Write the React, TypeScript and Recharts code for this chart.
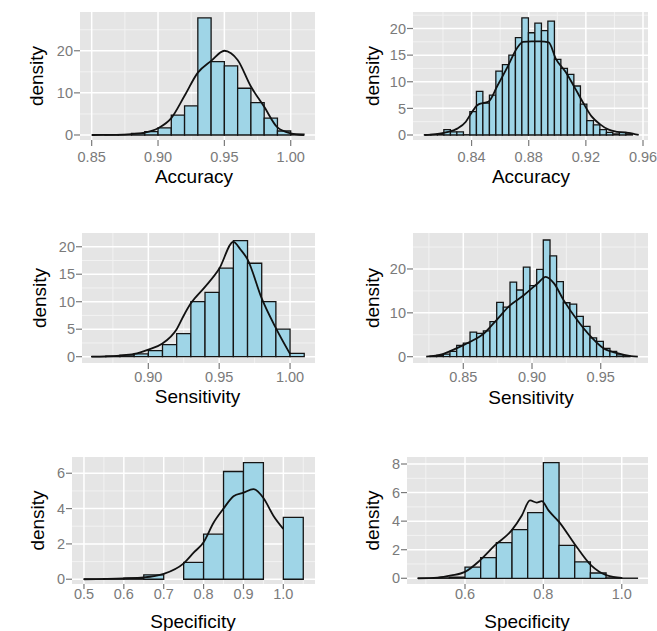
import { CartesianGrid, ComposedChart, Line, ReferenceArea, XAxis, YAxis } from "recharts";

// bin edges (n+1) and densities (n) of each histogram, plus the kernel density curve

const accA_edges = [0.86, 0.87, 0.88, 0.89, 0.90, 0.91, 0.92, 0.93, 0.94, 0.95, 0.96, 0.97, 0.98, 0.99, 1.00, 1.01];
const accA_hist = [0.05, 0.1, 0.4, 0.8, 1.7, 4.7, 6.9, 27.8, 17.4, 16.4, 11.1, 7.7, 4.0, 0.95, 0.2];
const accA_densX = [0.85, 0.87, 0.88, 0.89, 0.90, 0.91, 0.92, 0.93, 0.94, 0.95, 0.955, 0.96, 0.97, 0.98, 0.99, 1.00, 1.01];
const accA_densY = [0, 0.05, 0.2, 0.55, 1.6, 4.0, 9.3, 14.8, 17.6, 20.0, 19.4, 17.8, 11.5, 6.7, 1.8, 0.4, 0];

const accB_edges = [0.807, 0.8115, 0.8161, 0.8206, 0.8252, 0.8297, 0.8343, 0.8388, 0.8434, 0.8479, 0.8525, 0.857, 0.8616,
    0.8661, 0.8707, 0.8752, 0.8798, 0.8843, 0.8889, 0.8934, 0.898, 0.9025, 0.9071, 0.9116, 0.9162, 0.9207, 0.9253, 0.9298,
    0.9344, 0.9389, 0.9435, 0.948, 0.9526];
const accB_hist = [0.05, 0.1, 0.15, 1.0, 0.6, 0.6, 0.05, 4.4, 8.2, 6.0, 7.5, 12.0, 13.2, 15.0, 18.3, 22.0, 19.2, 21.0, 19.6,
    21.4, 14.2, 12.5, 11.4, 9.2, 5.8, 2.7, 1.9, 1.0, 0.5, 0.2, 0.5, 0.2];
const accB_densX = [0.807, 0.815, 0.822, 0.83, 0.836, 0.84, 0.844, 0.848, 0.852, 0.858, 0.865, 0.872, 0.876, 0.882, 0.888,
    0.894, 0.899, 0.906, 0.912, 0.918, 0.924, 0.93, 0.936, 0.942, 0.95, 0.957];
const accB_densY = [0, 0.15, 0.5, 1.2, 2.5, 4.2, 5.6, 6.0, 6.3, 9.2, 12.7, 16.4, 17.5, 17.6, 17.6, 17.4, 14.3, 11.8, 9.0, 6.1,
    3.5, 2.0, 1.0, 0.6, 0.4, 0];

const senA_edges = [0.86, 0.87, 0.88, 0.89, 0.90, 0.91, 0.92, 0.93, 0.94, 0.95, 0.96, 0.97, 0.98, 0.99, 1.00, 1.01];
const senA_hist = [0.02, 0.1, 0.3, 0.5, 1.1, 2.2, 4.2, 10.0, 11.7, 16.1, 21.1, 17.0, 10.0, 5.0, 0.6];
const senA_densX = [0.86, 0.87, 0.88, 0.89, 0.90, 0.91, 0.92, 0.925, 0.93, 0.94, 0.95, 0.96, 0.965, 0.97, 0.98, 0.99, 1.00];
const senA_densY = [0, 0.05, 0.2, 0.5, 1.3, 2.4, 5.0, 7.5, 9.7, 12.7, 16.0, 20.9, 19.5, 17.7, 10.6, 5.2, 0.5];

const senB_edges = [0.8258, 0.8306, 0.8355, 0.8403, 0.8452, 0.85, 0.8549, 0.8597, 0.8646, 0.8694, 0.8743, 0.8791, 0.884,
    0.8888, 0.8937, 0.8985, 0.9034, 0.9082, 0.9131, 0.9179, 0.9228, 0.9276, 0.9325, 0.9373, 0.9422, 0.947, 0.9519, 0.9567,
    0.9616, 0.9664, 0.9713];
const senB_hist = [0.1, 0.3, 0.6, 1.2, 2.6, 3.1, 5.6, 5.3, 5.9, 8.0, 12.4, 11.3, 17.0, 15.2, 20.4, 16.2, 19.9, 26.6, 23.0,
    17.1, 12.3, 12.0, 9.2, 6.9, 4.3, 3.5, 1.9, 1.2, 0.4, 0.15];
const senB_densX = [0.823, 0.835, 0.845, 0.855, 0.865, 0.874, 0.884, 0.894, 0.904, 0.91, 0.916, 0.923, 0.933, 0.943, 0.952,
    0.962, 0.972, 0.977];
const senB_densY = [0, 0.6, 1.9, 3.4, 5.3, 8.3, 11.7, 14.0, 16.7, 18.2, 16.7, 12.9, 8.3, 4.5, 1.9, 0.8, 0.15, 0];

const speA_edges = [0.50, 0.55, 0.60, 0.65, 0.70, 0.75, 0.80, 0.85, 0.90, 0.95, 1.00, 1.05];
const speA_hist = [0.01, 0.03, 0.06, 0.25, 0, 0.95, 2.55, 6.1, 6.6, 0, 3.5];
const speA_densX = [0.5, 0.6, 0.65, 0.7, 0.75, 0.775, 0.8, 0.825, 0.85, 0.875, 0.9, 0.925, 0.95, 0.975, 1.0];
const speA_densY = [0, 0.05, 0.1, 0.3, 0.9, 1.5, 2.1, 3.2, 4.0, 4.7, 4.9, 5.1, 4.6, 3.6, 2.85];

const speB_edges = [0.48, 0.52, 0.56, 0.60, 0.64, 0.68, 0.72, 0.76, 0.80, 0.84, 0.88, 0.92, 0.96, 1.00, 1.04];
const speB_hist = [0.01, 0.03, 0.08, 0.78, 1.45, 2.5, 3.4, 4.6, 8.1, 2.3, 1.15, 0.37, 0.03, 0.01];
const speB_densX = [0.48, 0.53, 0.565, 0.6, 0.638, 0.678, 0.719, 0.745, 0.766, 0.783, 0.796, 0.813, 0.84, 0.881, 0.922,
    0.962, 1.0];
const speB_densY = [0, 0.05, 0.2, 0.45, 1.25, 2.35, 3.35, 4.4, 5.45, 5.3, 5.4, 4.75, 3.95, 2.35, 0.9, 0.2, 0.02];

const FONT = '"Liberation Sans", Arial, Helvetica, sans-serif';
const BAR_FILL = "#9fd5e7";
const TICK_GREY = "#7a7a7a";

interface PanelSpec {
    title: string
    edges: number[]
    hist: number[]
    densX: number[]
    densY: number[]
    plot: [number, number, number, number] // left, top, right, bottom of the grey panel on the page
    xDomain: [number, number]
    yDomain: [number, number]
    xTicks: number[]
    xMinor: number[]
    yTicks: number[]
    yMinor: number[]
    digits: number
    yTitleX: number
    xTitleCx: number
    xTickSize: number
    xTickMargin: number
    xTitleOffset: number
}

const panels: PanelSpec[] = [
    {
        title: "Accuracy", edges: accA_edges, hist: accA_hist, densX: accA_densX, densY: accA_densY,
        plot: [80, 12, 315, 140], xDomain: [0.8412, 1.0183], yDomain: [-1.19, 29.2],
        xTicks: [0.85, 0.9, 0.95, 1.0], xMinor: [0.875, 0.925, 0.975], yTicks: [0, 10, 20], yMinor: [5, 15, 25],
        digits: 2, yTitleX: 42.5, xTitleCx: 194, xTickSize: 6, xTickMargin: 6, xTitleOffset: 43,
    },
    {
        title: "Accuracy", edges: accB_edges, hist: accB_hist, densX: accB_densX, densY: accB_densY,
        plot: [413, 12, 648, 140], xDomain: [0.799, 0.9635], yDomain: [-0.94, 23.1],
        xTicks: [0.84, 0.88, 0.92, 0.96], xMinor: [0.82, 0.86, 0.9, 0.94], yTicks: [0, 5, 10, 15, 20],
        yMinor: [2.5, 7.5, 12.5, 17.5, 22.5],
        digits: 2, yTitleX: 379, xTitleCx: 531, xTickSize: 6, xTickMargin: 6, xTitleOffset: 43,
    },
    {
        title: "Sensitivity", edges: senA_edges, hist: senA_hist, densX: senA_densX, densY: senA_densY,
        plot: [82, 233, 315, 363], xDomain: [0.8532, 1.0176], yDomain: [-1.15, 22.5],
        xTicks: [0.9, 0.95, 1.0], xMinor: [0.875, 0.925, 0.975], yTicks: [0, 5, 10, 15, 20], yMinor: [2.5, 7.5, 12.5, 17.5],
        digits: 2, yTitleX: 46, xTitleCx: 197.5, xTickSize: 6, xTickMargin: 3, xTitleOffset: 40,
    },
    {
        title: "Sensitivity", edges: senB_edges, hist: senB_hist, densX: senB_densX, densY: senB_densY,
        plot: [413, 233, 648, 363], xDomain: [0.8134, 0.9844], yDomain: [-1.44, 28.2],
        xTicks: [0.85, 0.9, 0.95], xMinor: [0.825, 0.875, 0.925, 0.975], yTicks: [0, 10, 20], yMinor: [5, 15, 25],
        digits: 2, yTitleX: 379, xTitleCx: 531, xTickSize: 6, xTickMargin: 3, xTitleOffset: 41,
    },
    {
        title: "Specificity", edges: speA_edges, hist: speA_hist, densX: speA_densX, densY: speA_densY,
        plot: [72, 457, 315, 584], xDomain: [0.47, 1.0794], yDomain: [-0.27, 6.92],
        xTicks: [0.5, 0.6, 0.7, 0.8, 0.9, 1.0], xMinor: [0.55, 0.65, 0.75, 0.85, 0.95, 1.05], yTicks: [0, 2, 4, 6],
        yMinor: [1, 3, 5],
        digits: 1, yTitleX: 44, xTitleCx: 193, xTickSize: 5, xTickMargin: 0, xTitleOffset: 43.5,
    },
    {
        title: "Specificity", edges: speB_edges, hist: speB_hist, densX: speB_densX, densY: speB_densY,
        plot: [407, 457, 648, 584], xDomain: [0.452, 1.067], yDomain: [-0.4, 8.49],
        xTicks: [0.6, 0.8, 1.0], xMinor: [0.5, 0.7, 0.9], yTicks: [0, 2, 4, 6, 8], yMinor: [1, 3, 5, 7],
        digits: 1, yTitleX: 379, xTitleCx: 527, xTickSize: 5, xTickMargin: 0, xTitleOffset: 44,
    },
];

function Panel({s}: { s: PanelSpec }) {
    const [pl, pt, pr, pb] = s.plot;
    const yw = 70, mt = 4, mr = 12, xh = 60;
    const left = pl - yw, top = pt - mt;
    const width = yw + (pr - pl) + mr, height = mt + (pb - pt) + xh;
    const data = s.densX.map((x, i) => ({x, y: s.densY[i]}));
    const bins = s.hist.map((h, i) => ({x0: s.edges[i], x1: s.edges[i + 1], h}));

    return (
        <div style={{position: "absolute", left, top, width, height}}>
            <ComposedChart width={width} height={height} data={data} margin={{top: mt, right: mr, left: 0, bottom: 0}}>
                <CartesianGrid fill="#E5E5E5" fillOpacity={1} stroke="#F2F2F2" strokeWidth={1}
                               verticalValues={s.xMinor} horizontalValues={s.yMinor}/>
                <CartesianGrid stroke="#FFFFFF" strokeWidth={1.5}
                               verticalValues={s.xTicks} horizontalValues={s.yTicks}/>
                <XAxis type="number" dataKey="x" domain={s.xDomain} ticks={s.xTicks} allowDataOverflow interval={0}
                       height={xh} axisLine={false} tickSize={s.xTickSize} tickMargin={s.xTickMargin}
                       tickLine={{stroke: TICK_GREY, strokeWidth: 1.2}}
                       tick={{fill: TICK_GREY, fontSize: 14.5, fontFamily: FONT}}
                       tickFormatter={(v: number) => v.toFixed(s.digits)}
                       label={() => (
                           <text x={s.xTitleCx - left} y={pb + s.xTitleOffset - top} textAnchor="middle"
                                 fontSize={19} fontFamily={FONT} fill="#000">{s.title}</text>
                       )}/>
                <YAxis type="number" domain={s.yDomain} ticks={s.yTicks} allowDataOverflow interval={0}
                       width={yw} axisLine={false} tickSize={6} tickMargin={1}
                       tickLine={{stroke: TICK_GREY, strokeWidth: 1.2}}
                       tick={{fill: TICK_GREY, fontSize: 14.5, fontFamily: FONT}}
                       label={() => (
                           <text transform={`translate(${s.yTitleX - left}, ${(pt + pb) / 2 - top}) rotate(-90)`}
                                 textAnchor="middle" fontSize={19} fontFamily={FONT} fill="#000">density</text>
                       )}/>
                {bins.map((b, i) => (
                    <ReferenceArea key={i} x1={b.x0} x2={b.x1} y1={0} y2={b.h} fill={BAR_FILL} fillOpacity={1}
                                   stroke="#151515" strokeWidth={1.3}/>
                ))}
                <Line type="monotone" dataKey="y" stroke="#111111" strokeWidth={1.8} dot={false}
                      isAnimationActive={false}/>
            </ComposedChart>
        </div>
    );
}

export default function App() {
    return (
        <div style={{
            position: "absolute", left: 0, top: 0, width: 657, height: 631, background: "#ffffff",
            overflow: "hidden"
        }}>
            {panels.map((s, i) => <Panel key={i} s={s}/>)}
        </div>
    );
}
